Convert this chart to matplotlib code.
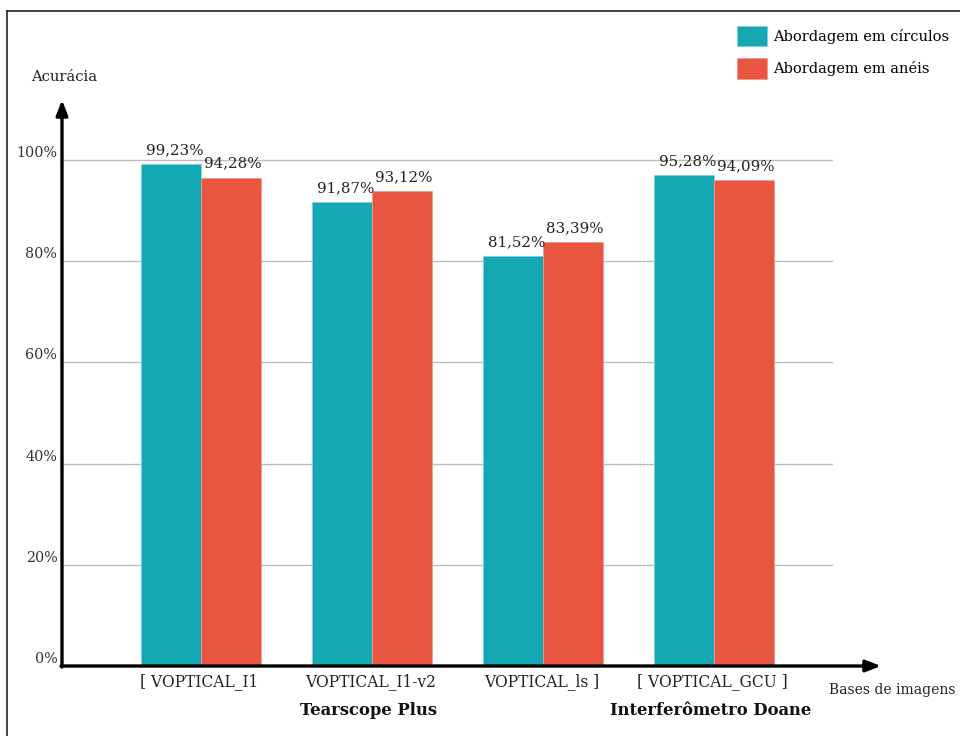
import numpy as np
import matplotlib
matplotlib.use("Agg")
import matplotlib.pyplot as plt
from matplotlib.patches import Patch
from matplotlib.lines import Line2D
import matplotlib.transforms as mtransforms

plt.rcParams['font.family'] = ['DejaVu Serif']

# dados
bases = ['[ VOPTICAL_I1', 'VOPTICAL_I1-v2', 'VOPTICAL_ls ]', '[ VOPTICAL_GCU ]']
grupos = ['Tearscope Plus', 'Interferômetro Doane']
grupo_pos = [1, 3]
# alturas das barras
circulos = [99.2, 91.7, 81.0, 97.0]
aneis = [96.5, 93.9, 83.7, 96.0]
# rótulos escritos sobre as barras
circulos_txt = ['99,23%', '91,87%', '81,52%', '95,28%']
aneis_txt = ['94,28%', '93,12%', '83,39%', '94,09%']
yticks = [0, 20, 40, 60, 80, 100]

cor_circ = '#14a8b5'
cor_anel = '#e85642'

W, H = 960, 736
fig = plt.figure(figsize=(W / 100, H / 100), dpi=100)
# eixo: x de 62 a 833 px, y de 666 a 100 px
ax = fig.add_axes([62 / W, 1 - 666 / H, (833 - 62) / W, (666 - 100) / H])

x = np.arange(len(bases))
larg = 0.348
ax.bar(x - larg / 2, circulos, larg, color=cor_circ, edgecolor='#7fd0d6', linewidth=0.6, zorder=3)
ax.bar(x + larg / 2, aneis, larg, color=cor_anel, edgecolor='#f29a8e', linewidth=0.6, zorder=3)

for i in range(len(bases)):
    ax.annotate(circulos_txt[i], (x[i] - larg / 2 + 0.02, circulos[i]), xytext=(0, 5),
                textcoords='offset points', ha='center', va='bottom', fontsize=10.8, color='#222222')
    ax.annotate(aneis_txt[i], (x[i] + larg / 2 + 0.01, aneis[i]), xytext=(0, 5),
                textcoords='offset points', ha='center', va='bottom', fontsize=10.8, color='#222222')

ax.set_xlim(-(201 - 62) / 171, 3 + (833 - 714) / 171)
ax.set_ylim(0, 100 * 566 / 506)

for s in ax.spines.values():
    s.set_visible(False)
ax.set_xticks([])
ax.set_yticks([])

# linhas de grade
for v in yticks[1:]:
    ax.axhline(v, color='#bdbdbd', linewidth=1.0, zorder=1)

trans_y = mtransforms.blended_transform_factory(ax.transAxes, ax.transData)
for v in yticks:
    ax.text(-0.006, v, f'{v}%', transform=trans_y, ha='right', va='bottom',
            fontsize=10.3, color='#333333')

# setas dos eixos
ax.annotate('', xy=(62 / W, 1 - 100 / H), xytext=(62 / W, 1 - 667 / H),
            xycoords='figure fraction', textcoords='figure fraction',
            arrowprops=dict(arrowstyle='-|>,head_width=0.35,head_length=0.9', color='black', lw=2.4,
                            shrinkA=0, shrinkB=0))
ax.annotate('', xy=(881 / W, 1 - 666 / H), xytext=(61 / W, 1 - 666 / H),
            xycoords='figure fraction', textcoords='figure fraction',
            arrowprops=dict(arrowstyle='-|>,head_width=0.35,head_length=0.9', color='black', lw=2.4,
                            shrinkA=0, shrinkB=0))

# rótulos das bases
trans_x = mtransforms.blended_transform_factory(ax.transData, fig.transFigure)
for i, b in enumerate(bases):
    ax.text(x[i] - 0.01, 1 - 673 / H, b, transform=trans_x, ha='center', va='top',
            fontsize=11.2, color='#222222')
for p, g in zip(grupo_pos, grupos):
    ax.text(p - 0.02, 1 - 702 / H, g, transform=trans_x, ha='center', va='top',
            fontsize=11.8, fontweight='bold', color='#111111')

fig.text(31 / W, 1 - 77 / H, 'Acurácia', ha='left', va='center', fontsize=10.6, color='#222222')
fig.text(829 / W, 1 - 690 / H, 'Bases de imagens', ha='left', va='center', fontsize=10, color='#222222')

# legenda
handles = [Patch(facecolor=cor_circ, edgecolor='#7fd0d6', linewidth=0.6),
           Patch(facecolor=cor_anel, edgecolor='#f29a8e', linewidth=0.6)]
fig.legend(handles, ['Abordagem em círculos', 'Abordagem em anéis'],
           loc='upper left', bbox_to_anchor=(737 / W, 1 - 26 / H), bbox_transform=fig.transFigure,
           frameon=False, borderpad=0, borderaxespad=0, fontsize=10.5,
           handlelength=2.06, handleheight=1.78, handletextpad=0.4, labelspacing=0.8)

# moldura
fig.add_artist(Line2D([7 / W, 1], [1 - 11 / H, 1 - 11 / H], transform=fig.transFigure,
                      color='#222222', linewidth=1.2))
fig.add_artist(Line2D([7 / W, 7 / W], [0, 1 - 11 / H], transform=fig.transFigure,
                      color='#222222', linewidth=1.2))

fig.savefig('out.png', dpi=100)
